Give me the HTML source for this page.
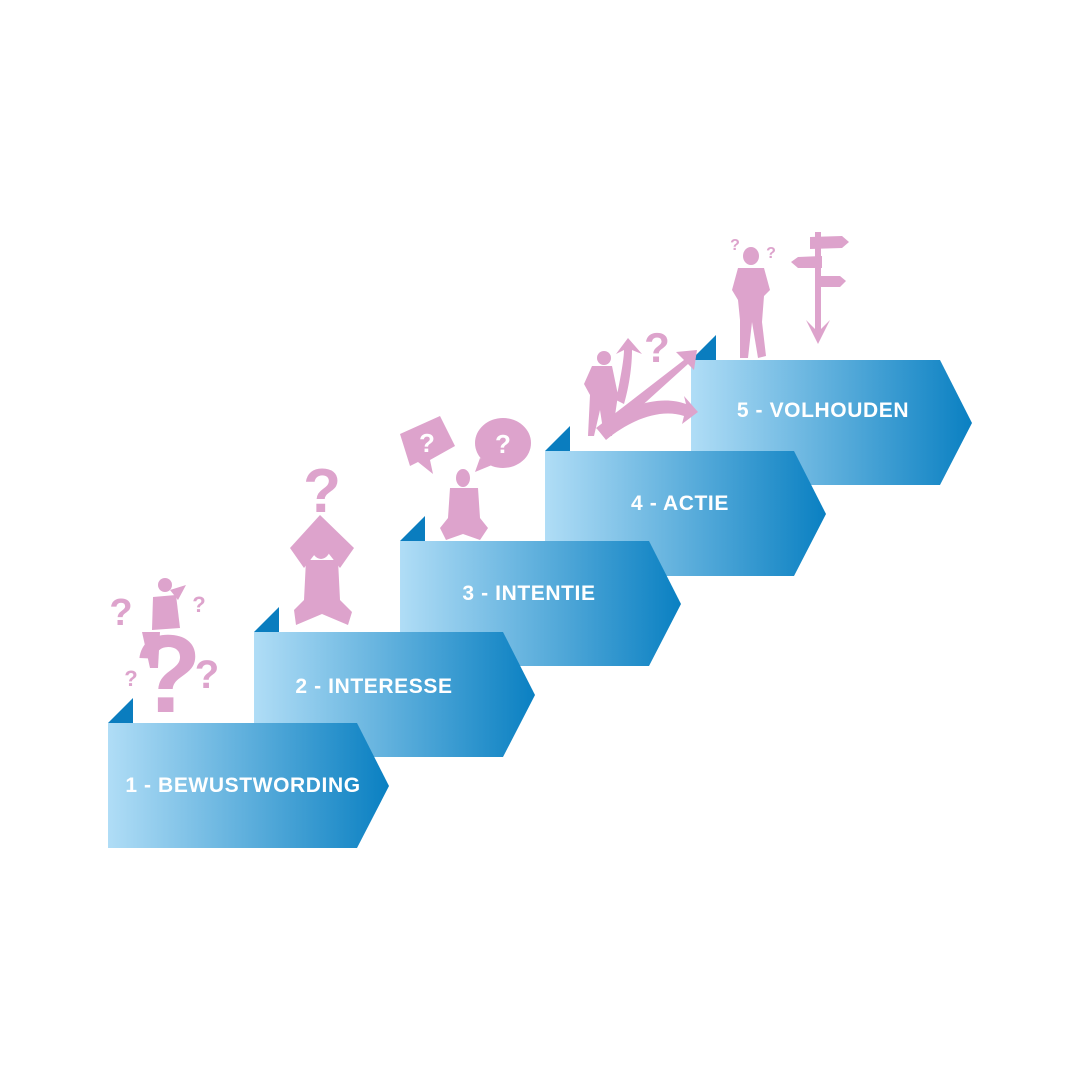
<!DOCTYPE html>
<html><head><meta charset="utf-8"><style>
html,body{margin:0;padding:0;background:#fff;}
svg{display:block;}
text{font-family:"Liberation Sans",sans-serif;font-weight:bold;}
.lbl{letter-spacing:0.6px;}
</style></head><body>
<svg width="1080" height="1080" viewBox="0 0 1080 1080" xmlns="http://www.w3.org/2000/svg">
<defs>
<linearGradient id="g" x1="0" x2="1" y1="0" y2="0">
<stop offset="0" stop-color="#b0ddf6"/><stop offset="1" stop-color="#0a80c2"/>
</linearGradient>
</defs>
<g id="steps">
<polygon points="691,360 716,335 716,360" fill="#0a7dbf"/>
<polygon points="691,360 940,360 972,423 940,485 691,485" fill="url(#g)"/>
<text class="lbl" x="823" y="417" font-size="21" fill="#fff" text-anchor="middle">5 - VOLHOUDEN</text>
<polygon points="545,451 570,426 570,451" fill="#0a7dbf"/>
<polygon points="545,451 794,451 826,514 794,576 545,576" fill="url(#g)"/>
<text class="lbl" x="680" y="510" font-size="21" fill="#fff" text-anchor="middle">4 - ACTIE</text>
<polygon points="400,541 425,516 425,541" fill="#0a7dbf"/>
<polygon points="400,541 649,541 681,604 649,666 400,666" fill="url(#g)"/>
<text class="lbl" x="529" y="600" font-size="21" fill="#fff" text-anchor="middle">3 - INTENTIE</text>
<polygon points="254,632 279,607 279,632" fill="#0a7dbf"/>
<polygon points="254,632 503,632 535,695 503,757 254,757" fill="url(#g)"/>
<text class="lbl" x="374" y="693" font-size="21" fill="#fff" text-anchor="middle">2 - INTERESSE</text>
<polygon points="108,723 133,698 133,723" fill="#0a7dbf"/>
<polygon points="108,723 357,723 389,786 357,848 108,848" fill="url(#g)"/>
<text class="lbl" x="243" y="792" font-size="21" fill="#fff" text-anchor="middle">1 - BEWUSTWORDING</text>
</g>
<g fill="#dda3cc">
<text x="168" y="712" font-size="110" text-anchor="middle">?</text>
<text x="121" y="625" font-size="38" text-anchor="middle">?</text>
<text x="199" y="612" font-size="22" text-anchor="middle">?</text>
<text x="131" y="686" font-size="22" text-anchor="middle">?</text>
<text x="207" y="688" font-size="40" text-anchor="middle">?</text>
<circle cx="165" cy="585" r="7"/>
<path d="M153,597 L176,595 L180,628 L152,630 Z"/>
<path d="M170,590 L186,585 L178,600 Z"/>
<path d="M142,632 L160,632 L158,668 L150,668 Z"/>
<text x="322" y="512" font-size="62" text-anchor="middle">?</text>
<ellipse cx="321" cy="545" rx="10" ry="14"/>
<path d="M290,548 L320,515 L354,548 L340,568 L322,545 L304,568 Z"/>
<path d="M306,560 L338,560 L340,600 L352,612 L348,625 L322,614 L296,625 L294,610 L304,600 Z"/>
<path d="M400,434 L440,416 L455,446 L430,460 L433,474 L418,462 L410,466 Z"/>
<ellipse cx="503" cy="443" rx="28" ry="25"/>
<path d="M480,458 L475,472 L492,465 Z"/>
<ellipse cx="463" cy="478" rx="7" ry="9"/>
<path d="M450,488 L478,488 L480,518 L488,528 L480,540 L463,534 L446,540 L440,528 L448,518 Z"/>
<circle cx="604" cy="358" r="7"/>
<path d="M592,366 L612,366 L618,395 L612,436 L604,436 L600,410 L594,436 L588,436 L590,395 L584,384 Z"/>
<path d="M596,428 L684,360 L676,352 L697,350 L694,370 L688,364 L606,438 Z"/>
<path d="M598,430 C620,406 660,394 686,404 L684,396 L698,412 L682,424 L684,416 C660,408 630,420 606,440 Z"/>
<path d="M616,400 C620,380 624,360 624,350 L616,354 L628,338 L642,354 L632,350 C632,370 628,390 624,404 Z"/>
<text x="657" y="362" font-size="42" text-anchor="middle">?</text>
<text x="735" y="250" font-size="16" text-anchor="middle">?</text>
<text x="771" y="258" font-size="16" text-anchor="middle">?</text>
<ellipse cx="751" cy="256" rx="8" ry="9"/>
<path d="M738,268 L764,268 L770,290 L764,296 L762,322 L766,356 L758,358 L752,322 L748,358 L740,358 L740,320 L738,300 L732,290 Z"/>
<rect x="815" y="232" width="6" height="100"/>
<path d="M810,237 L842,236 L849,242 L842,248 L810,249 Z"/>
<path d="M822,256 L798,257 L791,262 L798,268 L822,268 Z"/>
<path d="M815,276 L840,276 L846,281 L840,287 L815,287 Z"/>
<path d="M806,320 L818,344 L830,320 L818,332 Z"/>
</g>
<g fill="#fff">
<text x="427" y="452" font-size="26" text-anchor="middle">?</text>
<text x="503" y="453" font-size="26" text-anchor="middle">?</text>
</g>
</svg>
</body></html>
